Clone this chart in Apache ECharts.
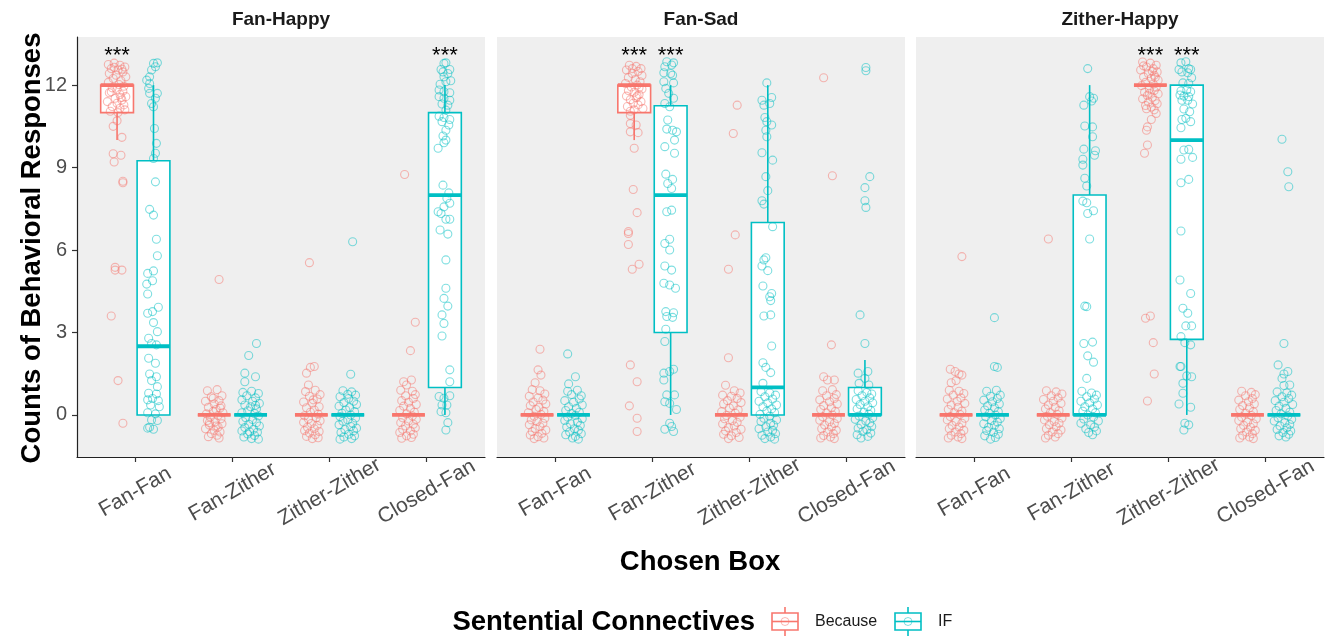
<!DOCTYPE html>
<html><head><meta charset="utf-8">
<script src="https://cdn.jsdelivr.net/npm/echarts@6/dist/echarts.min.js"></script>
<style>html,body{margin:0;padding:0;background:#fff}#c{width:1334px;height:638px}</style>
</head><body><div id="c"></div>
<script>
const panels = ['Fan-Happy', 'Fan-Sad', 'Zither-Happy'];
const categories = ['Fan-Fan', 'Fan-Zither', 'Zither-Zither', 'Closed-Fan'];
const connectives = ['Because', 'IF'];
const yTicks = [0, 3, 6, 9, 12];

// box stats per category: [lowerWhisker, q1, median, q3, upperWhisker]
const boxFanHappyBecause = [[10,11,12,12,12],[0,0,0,0,0],[0,0,0,0,0],[0,0,0,0,0]];
const boxFanHappyIF      = [[0,0,2.5,9.25,12],[0,0,0,0,0],[0,0,0,0,0],[0,1,8,11,12]];
const boxFanSadBecause   = [[0,0,0,0,0],[10,11,12,12,12],[0,0,0,0,0],[0,0,0,0,0]];
const boxFanSadIF        = [[0,0,0,0,0],[0,3,8,11.25,12],[0,0,1,7,12],[0,0,0,1,2]];
const boxZitherHappyBecause = [[0,0,0,0,0],[0,0,0,0,0],[12,12,12,12,12],[0,0,0,0,0]];
const boxZitherHappyIF      = [[0,0,0,0,0],[0,0,0,8,12],[0,2.75,10,12,12],[0,0,0,0,0]];

// jittered observations per category: [horizontal jitter (category units), jittered count]
const ptsFanHappyBecause = [
  [[-0.09,12.75],[-0.03,12.8],[0.03,12.72],[0.08,12.66],[-0.06,12.6],[0.01,12.55],[0.06,12.48],[-0.08,12.42],[-0.01,12.36],[0.09,12.3],[-0.04,12.24],[0.04,12.16],[-0.09,12.1],[0.02,12.02],[0.07,11.96],[-0.05,11.9],[0.0,11.84],[0.06,11.78],[-0.08,11.72],[0.03,11.66],[0.09,11.58],[-0.02,11.52],[0.05,11.46],[-0.1,11.4],[0.0,11.34],[0.07,11.28],[-0.05,11.22],[0.03,11.16],[0.08,11.1],[-0.07,11.05],[0.01,11.0],[-0.03,12.65],[0.05,12.58],[-0.06,11.76],[0.04,11.55],
   [0.0,10.7],[-0.04,10.5],[0.05,10.1],[-0.04,9.5],[0.04,9.45],[-0.03,9.2],[0.06,8.5],[0.06,8.45],[-0.02,5.37],[-0.02,5.27],[0.05,5.27],[-0.06,3.6],[0.01,1.25],[0.06,-0.3]],
  [[-0.07,0.88],[0.03,0.92],[0.08,0.7],[-0.03,0.66],[0.05,0.52],[-0.09,0.5],[0.0,0.4],[0.07,0.33],[-0.06,0.28],[0.02,0.2],[-0.01,0.13],[0.09,0.08],[-0.08,0.04],[0.04,-0.02],[-0.04,-0.08],[0.07,-0.14],[-0.07,-0.2],[0.01,-0.25],[0.08,-0.32],[-0.05,-0.37],[0.04,-0.44],[-0.09,-0.5],[0.0,-0.56],[0.06,-0.62],[-0.03,-0.68],[0.03,-0.74],[-0.06,-0.79],[0.05,-0.84],[-0.01,0.61],[0.06,0.25],[-0.05,-0.28],[0.02,-0.4],[0.05,4.93]],
  [[-0.06,0.85],[0.04,0.9],[0.09,0.74],[-0.02,0.68],[0.06,0.58],[-0.08,0.47],[0.01,0.43],[0.08,0.3],[-0.05,0.26],[0.03,0.18],[-0.01,0.1],[0.07,0.03],[-0.07,-0.03],[0.05,-0.1],[-0.03,-0.15],[0.09,-0.21],[-0.08,-0.27],[0.0,-0.31],[0.06,-0.38],[-0.04,-0.45],[0.03,-0.5],[-0.07,-0.57],[0.08,-0.6],[-0.02,-0.66],[0.04,-0.72],[-0.05,-0.78],[0.07,-0.83],[0.01,-0.86],[0.02,0.55],[-0.02,5.54],[-0.05,1.52],[-0.01,1.73],[0.03,1.76],[-0.03,1.09]],
  [[-0.08,0.9],[0.04,0.86],[0.07,0.74],[-0.03,0.7],[0.05,0.6],[-0.07,0.52],[0.0,0.46],[0.08,0.38],[-0.05,0.32],[0.02,0.24],[-0.09,0.16],[0.06,0.1],[-0.02,0.04],[0.04,-0.04],[-0.06,-0.1],[0.08,-0.16],[0.0,-0.22],[-0.08,-0.28],[0.05,-0.34],[-0.03,-0.4],[0.07,-0.47],[-0.06,-0.52],[0.02,-0.58],[-0.09,-0.64],[0.05,-0.7],[-0.02,-0.76],[0.03,-0.82],[-0.07,-0.85],[-0.04,8.75],[0.07,3.37],[0.02,2.34],[-0.05,1.21],[0.03,1.27],[-0.02,1.09]]
];
const ptsFanHappyIF = [
  [[0.0,12.79],[0.04,12.81],[0.02,12.67],[-0.02,12.55],[-0.04,12.3],[-0.07,12.18],[-0.04,12.06],[-0.05,11.88],[-0.04,11.7],[0.04,11.7],[0.02,11.52],[-0.02,11.33],[0.0,11.21],[0.01,10.42],[0.03,9.88],[0.02,9.52],[0.0,9.33],[0.02,8.48],[-0.04,7.48],[0.0,7.27],[0.03,6.39],[0.04,5.79],[-0.06,5.15],[0.0,5.24],[-0.07,4.76],[-0.01,4.88],[-0.06,4.4],[-0.06,3.7],[-0.01,3.76],[0.05,3.92],[0.0,3.36],[0.04,3.03],[-0.05,2.79],[-0.02,2.6],[0.03,2.55],[-0.05,2.06],[0.02,1.88],[-0.04,1.49],[0.03,1.39],[-0.02,1.25],[0.04,1.03],[-0.05,0.79],[0.03,0.76],[-0.01,0.6],[-0.06,0.55],[0.05,0.52],[-0.03,0.36],[0.06,0.3],[-0.06,0.08],[0.02,0.04],[-0.02,-0.18],[0.04,-0.2],[-0.06,-0.48],[0.0,-0.52],[-0.04,-0.45]],
  [[-0.08,0.82],[0.01,0.86],[0.08,0.78],[-0.04,0.7],[0.05,0.62],[-0.09,0.55],[0.02,0.5],[0.09,0.42],[-0.06,0.36],[0.0,0.3],[0.06,0.22],[-0.03,0.15],[-0.09,0.08],[0.04,0.05],[0.08,-0.04],[-0.05,-0.1],[0.02,-0.17],[-0.08,-0.24],[0.06,-0.28],[-0.02,-0.34],[0.09,-0.4],[-0.06,-0.46],[0.03,-0.52],[-0.09,-0.58],[0.07,-0.63],[-0.03,-0.69],[0.04,-0.75],[-0.07,-0.8],[0.01,-0.86],[0.08,-0.88],[-0.01,-0.62],[0.05,0.35],[0.06,2.6],[-0.02,2.16],[-0.06,1.52],[0.05,1.39],[-0.06,1.21]],
  [[-0.05,0.88],[0.04,0.84],[0.08,0.72],[-0.08,0.66],[0.01,0.6],[0.06,0.5],[-0.04,0.45],[0.09,0.38],[-0.09,0.32],[0.02,0.27],[-0.02,0.18],[0.07,0.12],[-0.06,0.06],[0.03,0.0],[-0.08,-0.06],[0.08,-0.11],[0.0,-0.18],[-0.05,-0.23],[0.05,-0.3],[-0.09,-0.36],[0.03,-0.42],[0.09,-0.48],[-0.03,-0.53],[0.06,-0.58],[-0.07,-0.64],[0.01,-0.7],[0.07,-0.76],[-0.04,-0.8],[0.04,-0.86],[-0.08,-0.88],[0.0,0.75],[0.05,6.3],[0.03,1.48]],
  [[-0.01,12.79],[0.01,12.81],[-0.04,12.57],[0.05,12.57],[-0.02,12.48],[0.03,12.42],[-0.01,12.3],[-0.05,12.03],[0.01,12.12],[0.06,12.16],[-0.06,11.82],[-0.01,11.76],[0.05,11.72],[-0.06,11.58],[-0.01,11.52],[0.05,11.45],[-0.03,11.31],[0.03,11.27],[0.01,11.09],[-0.06,10.87],[-0.01,10.82],[0.05,10.75],[-0.03,10.67],[0.04,10.55],[0.01,10.36],[-0.02,10.15],[0.01,10.0],[-0.01,9.9],[-0.07,9.7],[-0.02,8.36],[0.04,8.08],[0.02,7.88],[0.05,7.7],[-0.07,7.39],[-0.04,7.33],[-0.01,7.57],[0.01,7.12],[0.05,7.12],[-0.05,6.73],[0.03,6.58],[0.01,5.64],[0.01,4.61],[-0.01,4.24],[0.03,3.96],[-0.03,3.64],[-0.01,3.33],[-0.03,2.87],[0.05,1.64],[0.05,1.21],[-0.06,0.67],[-0.01,0.61],[0.05,0.7],[-0.03,0.36],[0.02,0.36],[-0.04,0.12],[0.01,0.08],[0.03,-0.28],[0.01,-0.55]]
];
const ptsFanSadBecause = [
  [[-0.05,0.92],[0.03,0.88],[0.08,0.76],[-0.08,0.68],[0.01,0.62],[0.06,0.54],[-0.04,0.47],[0.09,0.4],[-0.07,0.34],[0.02,0.27],[-0.01,0.2],[0.07,0.13],[-0.09,0.08],[0.04,0.02],[-0.03,-0.05],[0.08,-0.12],[-0.06,-0.18],[0.0,-0.24],[0.06,-0.3],[-0.08,-0.36],[0.03,-0.43],[-0.02,-0.49],[0.09,-0.55],[-0.05,-0.6],[0.05,-0.67],[-0.07,-0.73],[0.01,-0.79],[0.07,-0.84],[-0.03,-0.86],[0.03,2.39],[0.01,1.64],[0.04,1.45],[-0.02,1.17]],
  [[-0.05,12.72],[0.02,12.68],[0.07,12.6],[-0.08,12.55],[0.04,12.5],[-0.02,12.42],[0.08,12.35],[-0.06,12.28],[0.01,12.2],[0.06,12.12],[-0.09,12.06],[0.03,12.0],[-0.03,11.93],[0.08,11.86],[-0.06,11.8],[0.0,11.74],[0.05,11.66],[-0.08,11.6],[0.02,11.54],[-0.04,11.47],[0.07,11.4],[-0.01,11.34],[0.04,11.28],[-0.07,11.22],[0.09,11.15],[0.0,11.1],[-0.04,11.05],[0.05,11.9],[-0.02,12.6],[0.03,11.6],
   [-0.04,10.9],[-0.04,10.6],[0.02,10.55],[-0.04,10.3],[0.04,10.27],[0.0,9.7],[-0.01,8.2],[0.03,7.36],[-0.06,6.67],[-0.06,6.6],[-0.06,6.2],[-0.02,5.3],[0.05,5.48],[-0.04,1.82],[0.03,1.21],[-0.05,0.33],[0.03,-0.12],[0.03,-0.6]],
  [[-0.06,1.08],[0.03,0.88],[0.09,0.8],[-0.09,0.72],[0.0,0.68],[0.06,0.6],[-0.04,0.52],[0.1,0.45],[-0.08,0.4],[0.02,0.33],[-0.02,0.25],[0.07,0.18],[-0.1,0.12],[0.04,0.06],[-0.05,-0.02],[0.09,-0.08],[-0.07,-0.14],[0.01,-0.2],[0.06,-0.27],[-0.09,-0.33],[0.03,-0.4],[-0.03,-0.46],[0.1,-0.52],[-0.06,-0.58],[0.05,-0.64],[-0.08,-0.7],[0.0,-0.76],[0.08,-0.82],[-0.03,-0.86],[0.06,11.27],[0.02,10.24],[0.04,6.55],[-0.03,5.3],[-0.03,2.08]],
  [[-0.06,0.88],[0.04,0.92],[0.08,0.74],[-0.02,0.7],[0.06,0.6],[-0.09,0.55],[0.01,0.48],[0.09,0.4],[-0.05,0.34],[0.03,0.26],[-0.08,0.2],[0.07,0.13],[-0.02,0.07],[0.04,0.0],[-0.06,-0.07],[0.09,-0.13],[-0.09,-0.19],[0.01,-0.25],[0.06,-0.31],[-0.04,-0.37],[0.03,-0.44],[-0.07,-0.5],[0.08,-0.56],[-0.01,-0.62],[0.05,-0.68],[-0.05,-0.75],[0.02,-0.8],[-0.08,-0.84],[0.06,-0.86],[-0.05,12.27],[0.04,8.7],[0.03,2.55],[-0.05,1.39],[-0.01,1.27],[0.06,1.27]]
];
const ptsFanSadIF = [
  [[-0.06,0.86],[0.04,0.9],[0.08,0.7],[-0.02,0.74],[0.06,0.58],[-0.09,0.52],[0.0,0.46],[0.09,0.36],[-0.05,0.3],[0.03,0.24],[-0.08,0.16],[0.06,0.1],[-0.02,0.05],[0.02,-0.02],[-0.06,-0.08],[0.09,-0.14],[-0.09,-0.2],[0.04,-0.26],[-0.03,-0.32],[0.07,-0.38],[-0.07,-0.44],[0.01,-0.5],[0.05,-0.56],[-0.04,-0.62],[0.08,-0.68],[-0.08,-0.72],[0.02,-0.78],[-0.01,-0.84],[0.05,-0.88],[-0.06,2.22],[0.02,1.39],[-0.05,1.13]],
  [[-0.04,12.85],[0.03,12.81],[-0.06,12.67],[0.01,12.73],[-0.07,12.45],[0.0,12.42],[0.02,12.36],[-0.07,12.12],[0.03,12.08],[-0.05,11.88],[-0.02,11.7],[0.03,11.52],[-0.06,11.33],[-0.01,11.21],[-0.03,10.73],[-0.04,10.4],[0.02,10.36],[0.06,10.3],[-0.06,9.76],[0.04,10.0],[0.04,9.52],[-0.05,8.76],[0.02,8.57],[-0.03,8.42],[0.01,8.24],[-0.04,7.39],[0.01,7.45],[-0.06,6.24],[-0.01,6.39],[-0.01,6.0],[-0.06,5.42],[0.01,5.27],[-0.07,4.79],[-0.01,4.73],[0.05,4.61],[-0.05,3.76],[0.03,3.72],[-0.04,3.58],[0.02,3.55],[-0.05,3.12],[-0.06,2.67],[-0.07,1.52],[-0.01,1.58],[0.03,1.66],[-0.07,1.27],[-0.04,0.73],[0.04,0.73],[-0.06,0.48],[-0.01,0.42],[0.06,0.2],[-0.01,-0.3],[-0.06,-0.52],[0.03,-0.6],[0.01,-0.42]],
  [[-0.01,12.08],[-0.06,11.45],[0.04,11.55],[-0.04,11.27],[0.02,11.33],[-0.03,10.82],[-0.01,10.67],[0.04,10.55],[-0.02,10.36],[-0.01,10.12],[-0.06,9.54],[0.05,9.27],[-0.02,8.67],[0.0,8.16],[-0.06,7.79],[-0.04,7.67],[0.05,6.85],[-0.02,5.72],[-0.04,5.64],[-0.06,5.42],[0.0,5.25],[-0.05,4.69],[0.04,4.42],[0.02,4.3],[0.03,4.16],[-0.04,3.6],[0.03,3.64],[0.04,2.51],[-0.05,1.9],[-0.02,1.73],[0.03,1.54],[-0.05,1.15],
   [-0.07,0.85],[0.02,0.8],[0.08,0.72],[-0.03,0.66],[0.05,0.58],[-0.09,0.5],[0.0,0.44],[0.09,0.36],[-0.05,0.3],[0.04,0.22],[-0.01,0.14],[0.07,0.08],[-0.08,0.02],[0.02,-0.05],[-0.04,-0.12],[0.09,-0.18],[-0.07,-0.24],[0.03,-0.3],[0.06,-0.37],[-0.02,-0.43],[-0.09,-0.5],[0.05,-0.56],[0.0,-0.62],[0.08,-0.68],[-0.06,-0.74],[0.03,-0.8],[-0.03,-0.86],[0.07,-0.88]],
  [[-0.07,0.88],[0.02,0.82],[0.07,0.76],[-0.03,0.7],[0.05,0.62],[-0.09,0.56],[0.0,0.5],[0.08,0.44],[-0.05,0.38],[0.03,0.3],[-0.08,0.22],[0.06,0.16],[-0.01,0.1],[0.04,0.03],[-0.06,-0.04],[0.08,-0.1],[-0.1,-0.16],[0.01,-0.22],[0.05,-0.29],[-0.04,-0.35],[0.07,-0.42],[-0.07,-0.48],[0.02,-0.54],[-0.02,-0.6],[0.06,-0.66],[-0.08,-0.72],[0.03,-0.78],[-0.04,-0.84],
   [0.01,12.64],[0.01,12.52],[0.05,8.67],[0.0,8.27],[0.0,7.79],[0.01,7.55],[-0.05,3.64],[0.0,2.6],[-0.07,1.52],[0.03,1.58],[0.0,1.33],[-0.06,1.15],[0.04,1.09]]
];
const ptsZitherHappyBecause = [
  [[-0.07,0.9],[0.03,0.86],[0.08,0.78],[-0.03,0.72],[0.05,0.62],[-0.09,0.58],[0.01,0.5],[0.09,0.42],[-0.05,0.36],[0.02,0.28],[-0.08,0.2],[0.06,0.14],[-0.02,0.08],[0.04,0.02],[-0.06,-0.06],[0.09,-0.12],[-0.09,-0.18],[0.0,-0.24],[0.06,-0.3],[-0.04,-0.38],[0.03,-0.44],[-0.07,-0.5],[0.08,-0.56],[-0.01,-0.62],[0.05,-0.68],[-0.05,-0.74],[0.02,-0.8],[-0.08,-0.84],[0.06,-0.86],[0.06,5.76],[-0.06,1.66],[-0.01,1.58],[0.03,1.49],[0.06,1.45],[-0.05,1.17],[0.0,1.25]],
  [[-0.07,0.88],[0.03,0.84],[0.09,0.76],[-0.02,0.7],[0.05,0.62],[-0.1,0.56],[0.0,0.5],[0.08,0.42],[-0.05,0.36],[0.02,0.28],[-0.08,0.22],[0.06,0.15],[-0.03,0.08],[0.04,0.02],[-0.06,-0.05],[0.09,-0.11],[-0.09,-0.18],[0.01,-0.24],[0.06,-0.3],[-0.04,-0.36],[0.03,-0.43],[-0.07,-0.5],[0.08,-0.55],[-0.01,-0.62],[0.05,-0.68],[-0.05,-0.74],[0.02,-0.8],[-0.08,-0.84],[-0.05,6.4]],
  [[-0.08,12.84],[0.0,12.8],[0.06,12.72],[-0.04,12.66],[0.03,12.6],[-0.1,12.55],[0.07,12.48],[-0.02,12.42],[0.04,12.36],[-0.07,12.3],[0.01,12.24],[0.08,12.18],[-0.05,12.1],[0.03,12.04],[-0.09,11.98],[0.06,11.92],[-0.01,11.86],[0.04,11.8],[-0.06,11.74],[0.08,11.68],[-0.03,11.62],[0.02,11.56],[-0.08,11.5],[0.05,11.44],[-0.02,11.38],[0.07,11.32],[-0.05,11.26],[0.01,11.2],[-0.04,11.14],[0.04,11.1],[-0.07,12.7],[0.05,12.28],[-0.01,11.7],[0.02,12.5],
   [0.06,10.97],[0.01,10.75],[-0.03,10.48],[-0.04,10.36],[-0.03,9.82],[-0.06,9.52],[-0.05,3.52],[0.0,3.6],[0.03,2.63],[0.04,1.49],[-0.03,0.51]],
  [[-0.06,0.86],[0.04,0.82],[0.08,0.74],[-0.02,0.7],[0.05,0.6],[-0.09,0.54],[0.01,0.48],[0.07,0.4],[-0.05,0.34],[0.02,0.26],[-0.08,0.2],[0.06,0.12],[-0.02,0.06],[0.04,-0.02],[-0.06,-0.08],[0.09,-0.14],[-0.09,-0.2],[0.0,-0.26],[0.06,-0.32],[-0.04,-0.38],[0.03,-0.45],[-0.07,-0.5],[0.08,-0.56],[-0.01,-0.62],[0.05,-0.68],[-0.05,-0.74],[0.02,-0.8],[-0.08,-0.84],[0.06,-0.86]]
];
const ptsZitherHappyIF = [
  [[-0.06,0.86],[0.04,0.9],[0.08,0.72],[-0.02,0.68],[0.05,0.6],[-0.09,0.54],[0.0,0.48],[0.07,0.4],[-0.05,0.33],[0.02,0.26],[-0.08,0.18],[0.06,0.12],[-0.03,0.06],[0.03,0.0],[-0.07,-0.07],[0.08,-0.13],[-0.01,-0.2],[0.05,-0.26],[-0.09,-0.32],[0.02,-0.38],[-0.04,-0.45],[0.07,-0.5],[-0.06,-0.57],[0.01,-0.63],[0.06,-0.7],[-0.08,-0.76],[0.03,-0.82],[-0.02,-0.88],[0.02,3.54],[0.02,1.76],[0.05,1.73]],
  [[-0.02,12.6],[0.0,11.58],[0.04,11.52],[0.02,11.42],[-0.06,11.27],[-0.05,10.51],[0.03,10.48],[0.03,10.12],[-0.06,9.67],[0.06,9.61],[0.05,9.45],[-0.07,9.3],[-0.07,9.09],[-0.05,8.61],[-0.03,8.33],[-0.07,7.78],[-0.03,7.72],[-0.02,7.33],[0.04,7.43],[0.0,6.4],[-0.05,3.96],[-0.03,3.94],[-0.06,2.6],[0.03,2.65],[-0.02,2.15],[0.04,1.92],[-0.03,1.33],
   [-0.08,0.86],[0.02,0.8],[0.07,0.72],[-0.03,0.66],[0.05,0.58],[-0.09,0.5],[0.0,0.44],[0.08,0.36],[-0.05,0.3],[0.03,0.22],[-0.07,0.14],[0.06,0.08],[-0.02,0.0],[0.04,-0.08],[-0.06,-0.15],[0.09,-0.22],[-0.09,-0.3],[0.01,-0.36],[0.05,-0.44],[-0.04,-0.5],[0.07,-0.58],[-0.01,-0.64],[0.03,-0.72]],
  [[-0.06,12.81],[-0.01,12.85],[-0.08,12.57],[0.02,12.6],[0.04,12.57],[-0.05,12.48],[0.01,12.45],[0.05,12.27],[-0.04,12.08],[0.02,12.06],[-0.06,11.79],[0.0,11.82],[0.04,11.76],[-0.07,11.64],[-0.03,11.6],[0.02,11.58],[-0.05,11.45],[0.01,11.45],[0.06,11.31],[-0.03,11.13],[0.03,11.03],[-0.05,10.75],[-0.01,10.79],[0.04,10.67],[-0.06,10.45],[-0.03,9.64],[0.02,9.66],[0.06,9.37],[-0.06,9.3],[-0.06,8.45],[0.02,8.57],[-0.06,6.69],[-0.07,4.91],[0.04,4.42],[-0.04,3.88],[0.01,3.7],[-0.01,3.24],[0.05,3.24],[-0.06,2.85],[-0.02,2.63],[0.04,2.55],[-0.07,1.76],[-0.06,1.76],[0.0,1.42],[0.05,1.39],[-0.04,1.15],[-0.04,0.79],[-0.08,0.4],[0.04,0.28],[-0.02,-0.3],[0.02,-0.36],[-0.03,-0.55]],
  [[-0.07,0.84],[0.03,0.8],[0.08,0.72],[-0.02,0.66],[0.05,0.6],[-0.09,0.52],[0.0,0.46],[0.09,0.38],[-0.05,0.32],[0.02,0.24],[-0.08,0.16],[0.06,0.1],[-0.03,0.04],[0.04,-0.04],[-0.06,-0.1],[0.08,-0.16],[-0.1,-0.22],[0.01,-0.28],[0.06,-0.35],[-0.04,-0.4],[0.03,-0.47],[-0.07,-0.53],[0.07,-0.58],[-0.01,-0.64],[0.05,-0.7],[-0.05,-0.76],[0.02,-0.8],[-0.02,10.03],[0.04,8.85],[0.05,8.3],[0.0,2.6],[-0.06,1.82],[0.04,1.58],[0.0,1.49],[-0.02,1.33],[0.06,1.09],[0.0,1.07]]
];
// significance marks: [panel, category, connective]
const sigMarks = [[0,0,0],[0,3,1],[1,1,0],[1,1,1],[2,2,0],[2,2,1]];
const sigLabel = '***';
const sigLevel = 13.07;

const boxData = [[boxFanHappyBecause, boxFanHappyIF],[boxFanSadBecause, boxFanSadIF],[boxZitherHappyBecause, boxZitherHappyIF]];
const ptsData = [[ptsFanHappyBecause, ptsFanHappyIF],[ptsFanSadBecause, ptsFanSadIF],[ptsZitherHappyBecause, ptsZitherHappyIF]];

const COLORS = ['#F8766D', '#00BFC4'];
const DODGE = [-0.1875, 0.1875];
const BOXW = 0.3375;
const FONT = '"Liberation Sans", Arial, Helvetica, sans-serif';
const gridLefts = [77, 497, 916];
const gridW = 408;

const chart = echarts.init(document.getElementById('c'), null, {renderer: 'canvas'});
const grids = [], xAxes = [], yAxes = [], series = [];
panels.forEach((p, pi) => {
  grids.push({left: gridLefts[pi], width: gridW, top: 37, bottom: 181, show: true, backgroundColor: '#EFEFEF', borderWidth: 0});
  xAxes.push({
    type: 'value', gridIndex: pi, min: 0.4, max: 4.6,
    splitLine: {show: false},
    axisLine: {show: true, onZero: false, lineStyle: {color: '#222', width: 1.2}},
    axisTick: {show: true, customValues: [1,2,3,4], length: 5, lineStyle: {color: '#333', width: 1.2}},
    axisLabel: {show: true, customValues: [1,2,3,4], formatter: v => categories[Math.round(v) - 1],
      rotate: 30, align: 'center', verticalAlign: 'middle', margin: 35,
      fontSize: 21, color: '#4D4D4D', fontFamily: FONT}
  });
  yAxes.push({
    type: 'value', gridIndex: pi, min: -1.53, max: 13.75,
    splitLine: {show: false},
    axisLine: {show: pi === 0, lineStyle: {color: '#222', width: 1.2}},
    axisTick: {show: pi === 0, customValues: yTicks, length: 5, lineStyle: {color: '#333', width: 1.2}},
    axisLabel: {show: pi === 0, customValues: yTicks, margin: 10, fontSize: 20, color: '#4D4D4D', fontFamily: FONT}
  });
  // boxes
  const bd = [];
  boxData[pi].forEach((arr, gi) => arr.forEach((s, ci) => bd.push([ci + 1 + DODGE[gi], s[0], s[1], s[2], s[3], s[4], gi])));
  series.push({
    type: 'custom', xAxisIndex: pi, yAxisIndex: pi, data: bd, z: 2,
    renderItem: (params, api) => {
      const x = api.value(0), col = COLORS[api.value(6)];
      const lo = api.coord([x, api.value(1)]), q1 = api.coord([x, api.value(2)]);
      const md = api.coord([x, api.value(3)]), q3 = api.coord([x, api.value(4)]), hi = api.coord([x, api.value(5)]);
      const half = api.size([BOXW, 0])[0] / 2;
      return {type: 'group', children: [
        {type: 'line', shape: {x1: lo[0], y1: lo[1], x2: q1[0], y2: q1[1]}, style: {stroke: col, lineWidth: 1.6}},
        {type: 'line', shape: {x1: q3[0], y1: q3[1], x2: hi[0], y2: hi[1]}, style: {stroke: col, lineWidth: 1.6}},
        {type: 'rect', shape: {x: q3[0] - half, y: q3[1], width: half * 2, height: q1[1] - q3[1]}, style: {fill: '#fff', stroke: col, lineWidth: 1.6}},
        {type: 'line', shape: {x1: md[0] - half, y1: md[1], x2: md[0] + half, y2: md[1]}, style: {stroke: col, lineWidth: 3.8}}
      ]};
    }
  });
  // jittered points
  ptsData[pi].forEach((arr, gi) => {
    const d = [];
    arr.forEach((list, ci) => list.forEach(pt => d.push([ci + 1 + DODGE[gi] + pt[0], pt[1]])));
    series.push({
      type: 'scatter', xAxisIndex: pi, yAxisIndex: pi, data: d, z: 3,
      symbol: 'circle', symbolSize: 8,
      itemStyle: {color: 'rgba(255,255,255,0)', borderColor: COLORS[gi], borderWidth: 1.1, opacity: 0.5},
      emphasis: {disabled: true}
    });
  });
  // significance marks
  const sd = sigMarks.filter(m => m[0] === pi).map(m => [m[1] + 1 + DODGE[m[2]], sigLevel]);
  series.push({
    type: 'custom', xAxisIndex: pi, yAxisIndex: pi, data: sd, z: 4,
    renderItem: (params, api) => {
      const c = api.coord([api.value(0), api.value(1)]);
      return {type: 'text', x: c[0], y: c[1], style: {text: sigLabel, fontSize: 22, fontFamily: FONT, fill: '#000', align: 'center', verticalAlign: 'middle'}};
    }
  });
});

const graphics = [];
panels.forEach((p, pi) => graphics.push({type: 'text', x: gridLefts[pi] + gridW / 2, y: 20,
  style: {text: p, fontSize: 19, fontWeight: 'bold', fontFamily: FONT, fill: '#1A1A1A', align: 'center', verticalAlign: 'middle'}}));
graphics.push({type: 'text', x: 32, y: 248, rotation: Math.PI / 2,
  style: {text: 'Counts of Behavioral Responses', fontSize: 27.5, fontWeight: 'bold', fontFamily: FONT, fill: '#000', align: 'center', verticalAlign: 'middle'}});
graphics.push({type: 'text', x: 700, y: 562,
  style: {text: 'Chosen Box', fontSize: 27.5, fontWeight: 'bold', fontFamily: FONT, fill: '#000', align: 'center', verticalAlign: 'middle'}});
graphics.push({type: 'text', x: 755, y: 622,
  style: {text: 'Sentential Connectives', fontSize: 27.5, fontWeight: 'bold', fontFamily: FONT, fill: '#000', align: 'right', verticalAlign: 'middle'}});
const keyX = [772, 895], labX = [815, 938];
connectives.forEach((name, gi) => {
  const c = COLORS[gi], kx = keyX[gi], cx = kx + 13;
  graphics.push({type: 'group', children: [
    {type: 'line', shape: {x1: cx, y1: 607, x2: cx, y2: 613}, style: {stroke: c, lineWidth: 1.6}},
    {type: 'line', shape: {x1: cx, y1: 630, x2: cx, y2: 636}, style: {stroke: c, lineWidth: 1.6}},
    {type: 'rect', shape: {x: kx, y: 613, width: 26, height: 17}, style: {fill: '#fff', stroke: c, lineWidth: 1.6}},
    {type: 'line', shape: {x1: kx, y1: 621.5, x2: kx + 26, y2: 621.5}, style: {stroke: c, lineWidth: 1.6}},
    {type: 'circle', shape: {cx: cx, cy: 621.5, r: 4}, style: {fill: 'none', stroke: c, lineWidth: 1, opacity: 0.5}},
    {type: 'text', x: labX[gi], y: 622, style: {text: name, fontSize: 16, fontFamily: FONT, fill: '#1A1A1A', align: 'left', verticalAlign: 'middle'}}
  ]});
});

chart.setOption({
  animation: false,
  grid: grids, xAxis: xAxes, yAxis: yAxes, series: series,
  graphic: graphics
});
</script></body></html>
